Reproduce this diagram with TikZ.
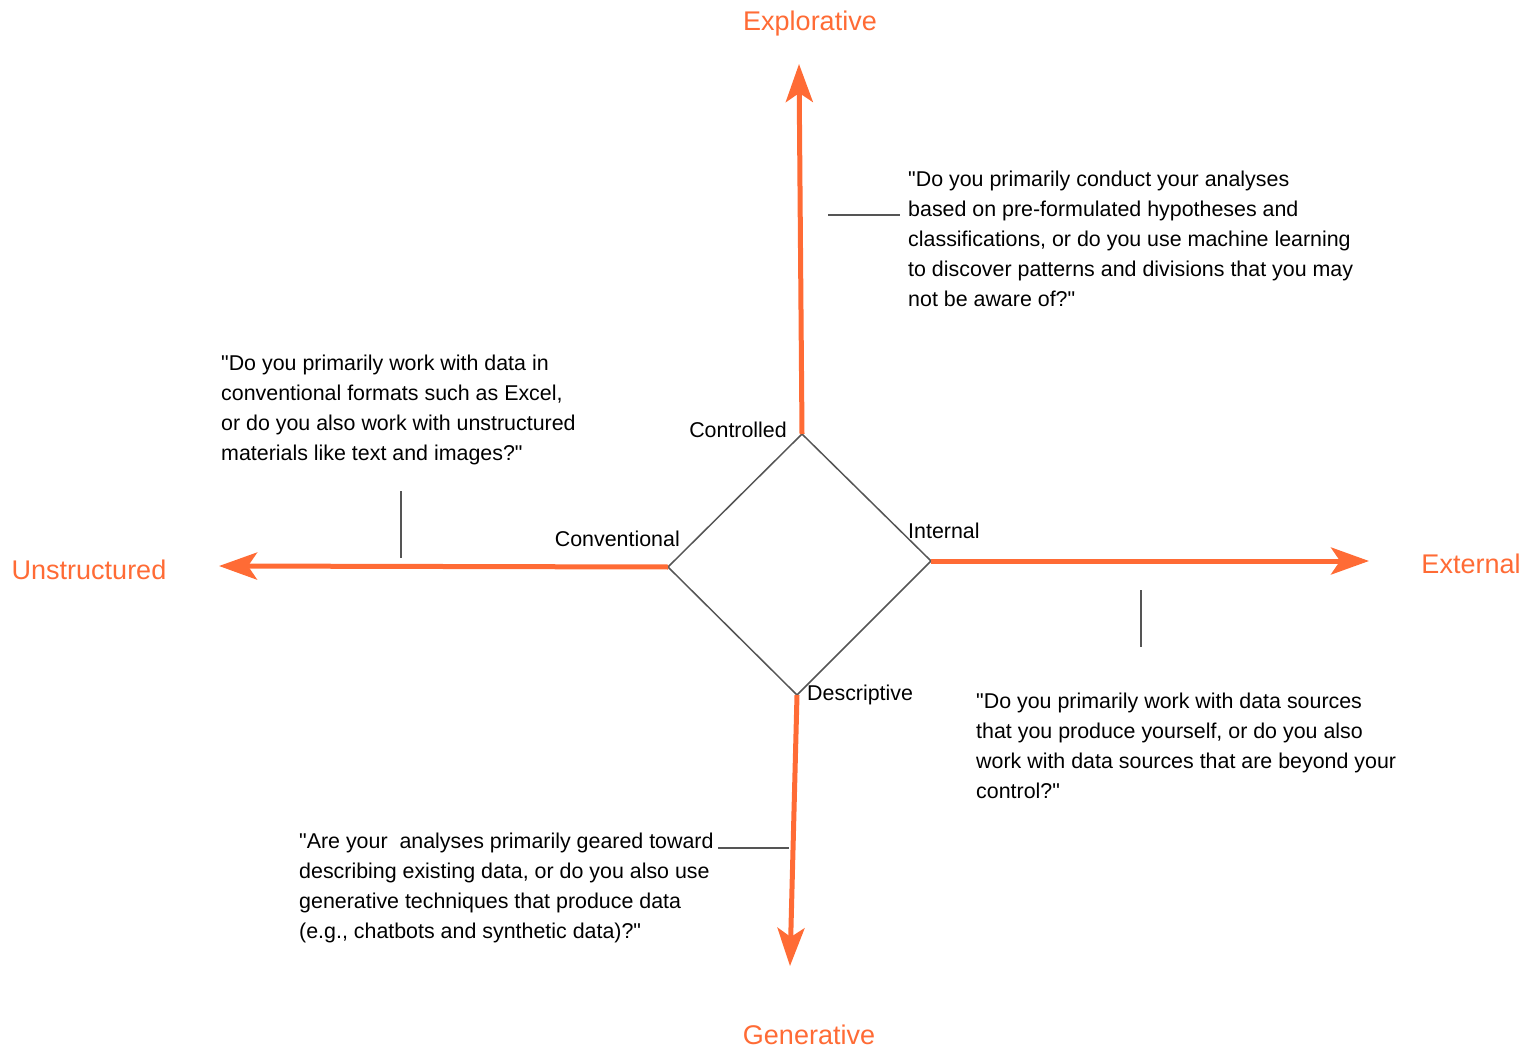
\documentclass[tikz,border=0pt]{standalone}
\usepackage{fontspec}
\setmainfont{Liberation Sans}[Ligatures=TeXOff]
\usetikzlibrary{arrows.meta}
\definecolor{axisorange}{RGB}{255,107,53}
\definecolor{leadgray}{RGB}{85,85,85}
\newcommand{\axislabel}[1]{
	\fontsize{27}{31}\selectfont\textcolor{axisorange}{#1}
}

\begin{document}
\begin{tikzpicture}[x=1pt, y=-1pt,
	axis/.style={draw=axisorange, line width=5pt, -{Stealth[length=38pt, width=27pt, inset=9pt]}},
	lead/.style={draw=leadgray, line width=1.5pt},
	question/.style={anchor=north west, align=left, inner sep=0pt, font=\fontsize{21.4}{30}\selectfont},
	corner/.style={inner sep=0pt, font=\fontsize{21.4}{25}\selectfont}]

\useasboundingbox (0,0) rectangle (1526,1048);

% diamond
\coordinate (top) at (802,434);
\coordinate (right) at (931,561);
\coordinate (bottom) at (797,695);
\coordinate (left) at (668,567);
\draw[draw=leadgray, line width=1.5pt] (top) -- (right) -- (bottom) -- (left) -- cycle;

\node[corner, anchor=east] (controlled) at (787,430) {Controlled};
\node[corner, anchor=east] (conventional) at (680,539) {Conventional};
\node[corner, anchor=west] (internal) at (908,531) {Internal};
\node[corner, anchor=west] (descriptive) at (807,695) {Descriptive};

% axes
\coordinate (tipN) at (799,64);
\coordinate (tipE) at (1369,561);
\coordinate (tipS) at (790,966);
\coordinate (tipW) at (219,566);
\draw[axis] (top) -- (tipN);
\draw[axis] (right) -- (tipE);
\draw[axis] (bottom) -- (tipS);
\draw[axis] (left) -- (tipW);

\node (explorative) at (810,24) {\axislabel{Explorative}};
\node (external) at (1471,564) {\axislabel{External}};
\node (generative) at (809,1035) {\axislabel{Generative}};
\node (unstructured) at (89,570) {\axislabel{Unstructured}};

% questions
\node[question] (qtop) at (908,171) {"Do you primarily conduct your analyses\\
	based on pre-formulated hypotheses and\\
	classifications, or do you use machine learning\\
	to discover patterns and divisions that you may\\
	not be aware of?"};
\node[question] (qleft) at (221,355) {"Do you primarily work with data in\\
	conventional formats such as Excel,\\
	or do you also work with unstructured\\
	materials like text and images?"};
\node[question] (qright) at (976,693) {"Do you primarily work with data sources\\
	that you produce yourself, or do you also\\
	work with data sources that are beyond your\\
	control?"};
\node[question] (qbottom) at (299,833) {"Are your\ \ analyses primarily geared toward\\
	describing existing data, or do you also use\\
	generative techniques that produce data\\
	(e.g., chatbots and synthetic data)?"};

% leaders
\coordinate (ltop) at (828,215);
\coordinate (lleft) at (401,491);
\coordinate (lright) at (1141,590);
\coordinate (lbottom) at (718,848);
\draw[lead] (ltop) -- ++(72,0);
\draw[lead] (lleft) -- ++(0,67);
\draw[lead] (lright) -- ++(0,57);
\draw[lead] (lbottom) -- ++(71,0);
\end{tikzpicture}
\end{document}
